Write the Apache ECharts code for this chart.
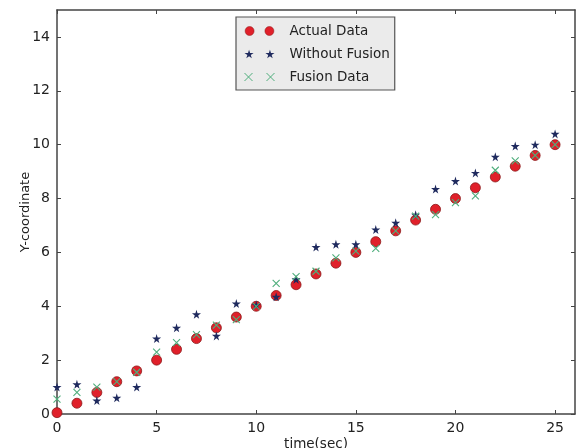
<!DOCTYPE html>
<html>
<head>
<meta charset="utf-8">
<script src="https://cdn.jsdelivr.net/npm/echarts@6/dist/echarts.min.js"></script>
<style>html,body{margin:0;padding:0;background:#fff}#c{width:576px;height:448px}</style>
</head>
<body>
<div id="c"></div>
<script>
const times = [0,1,2,3,4,5,6,7,8,9,10,11,12,13,14,15,16,17,18,19,20,21,22,23,24,25];
const actualData = [0.05,0.4,0.8,1.2,1.6,2.0,2.4,2.8,3.2,3.6,4.0,4.4,4.8,5.2,5.6,6.0,6.4,6.8,7.2,7.6,8.0,8.4,8.8,9.2,9.6,10.0];
const withoutFusion = [1.0,1.1,0.5,0.6,1.0,2.8,3.2,3.7,2.9,4.1,4.05,4.35,5.0,6.2,6.3,6.3,6.85,7.1,7.4,8.35,8.65,8.95,9.55,9.95,10.0,10.4];
const fusionData = [0.55,0.8,1.0,1.2,1.55,2.3,2.65,2.95,3.3,3.5,4.0,4.85,5.1,5.3,5.8,6.05,6.15,6.8,7.35,7.4,7.85,8.1,9.05,9.4,9.6,10.0];
const seriesNames = ['Actual Data','Without Fusion','Fusion Data'];
const xTicks = [0,5,10,15,20,25];
const yTicks = [0,2,4,6,8,10,12,14];

const pair = a => times.map((t,i)=>[t,a[i]]);
const starPath = 'path://M50,0 L61,35 L98,35 L68,57 L79,91 L50,70 L21,91 L32,57 L2,35 L39,35 Z';
const crossPath = 'path://M0,0 L10,10 M10,0 L0,10';
const circ2 = 'path://M0,5 A5,5 0 1,0 10,5 A5,5 0 1,0 0,5 Z M22,5 A5,5 0 1,0 32,5 A5,5 0 1,0 22,5 Z';
const star2 = 'path://M5,0 L6.1,3.5 L9.8,3.5 L6.8,5.7 L7.9,9.1 L5,7 L2.1,9.1 L3.2,5.7 L0.2,3.5 L3.9,3.5 Z M27,0 L28.1,3.5 L31.8,3.5 L28.8,5.7 L29.9,9.1 L27,7 L24.1,9.1 L25.2,5.7 L22.2,3.5 L25.9,3.5 Z';
const cross2 = 'path://M1,1 L9,9 M9,1 L1,9 M23,1 L31,9 M31,1 L23,9';

const lineStyle = {color: '#444', width: 1.5};
const mkAxis = (pos, max, ticks, extra) => Object.assign({
  type: 'value', position: pos, min: 0, max: max,
  axisLine: {show: true, onZero: false, lineStyle: lineStyle},
  axisTick: {show: true, inside: true, length: 4, customValues: ticks, lineStyle: {color: '#444', width: 1}},
  axisLabel: {show: false, customValues: ticks},
  splitLine: {show: false}
}, extra || {});
const labelStyle = {fontFamily: 'DejaVu Sans', fontSize: 14, color: '#222', margin: 7};

const chart = echarts.init(document.getElementById('c'), null, {renderer: 'canvas'});
chart.setOption({
  animation: false,
  backgroundColor: '#fff',
  grid: {left: 57, top: 10, right: 1, bottom: 34, containLabel: false, outerBoundsMode: 'none'},
  legend: {
    data: [
      {name: seriesNames[0], icon: circ2, itemStyle: {color: '#e0202a', borderColor: '#8a1a1a', borderWidth: 0.5}},
      {name: seriesNames[1], icon: star2, itemStyle: {color: '#1f2a5e'}},
      {name: seriesNames[2], icon: cross2, itemStyle: {color: 'rgba(0,0,0,0)', borderColor: '#4fae7c', borderWidth: 1}}
    ],
    orient: 'vertical', left: 236, top: 17,
    itemWidth: 30, itemHeight: 9, itemGap: 9,
    padding: [7, 5, 6, 8],
    backgroundColor: '#ebebeb', borderColor: '#555', borderWidth: 1.2,
    textStyle: {fontFamily: 'DejaVu Sans', fontSize: 13.5, color: '#222', padding: [0,0,0,10]}
  },
  xAxis: [
    mkAxis('bottom', 26, xTicks, {
      name: 'time(sec)', nameLocation: 'middle', nameGap: 23, nameMoveOverlap: false,
      nameTextStyle: {fontFamily: 'DejaVu Sans', fontSize: 13.5, color: '#222', verticalAlign: 'top'},
      axisLabel: Object.assign({show: true, customValues: xTicks}, labelStyle)}),
    mkAxis('top', 26, xTicks)
  ],
  yAxis: [
    mkAxis('left', 15, yTicks, {
      name: 'Y-coordinate', nameLocation: 'middle', nameGap: 25, nameRotate: 90, nameMoveOverlap: false,
      nameTextStyle: {fontFamily: 'DejaVu Sans', fontSize: 13, color: '#222', verticalAlign: 'bottom'},
      axisLabel: Object.assign({show: true, customValues: yTicks}, labelStyle)}),
    mkAxis('right', 15, yTicks)
  ],
  series: [
    {name: seriesNames[0], type: 'scatter', data: pair(actualData), symbol: 'circle', symbolSize: 10,
     itemStyle: {color: '#e0202a', borderColor: '#8a1a1a', borderWidth: 0.8, opacity: 1}, z: 2},
    {name: seriesNames[1], type: 'scatter', data: pair(withoutFusion), symbol: starPath, symbolSize: 9,
     itemStyle: {color: '#1f2a5e', opacity: 1}, z: 3},
    {name: seriesNames[2], type: 'scatter', data: pair(fusionData), symbol: crossPath, symbolSize: 7,
     itemStyle: {color: 'rgba(0,0,0,0)', borderColor: '#4fae7c', borderWidth: 1.1, opacity: 1}, z: 4}
  ]
});
</script>
</body>
</html>
